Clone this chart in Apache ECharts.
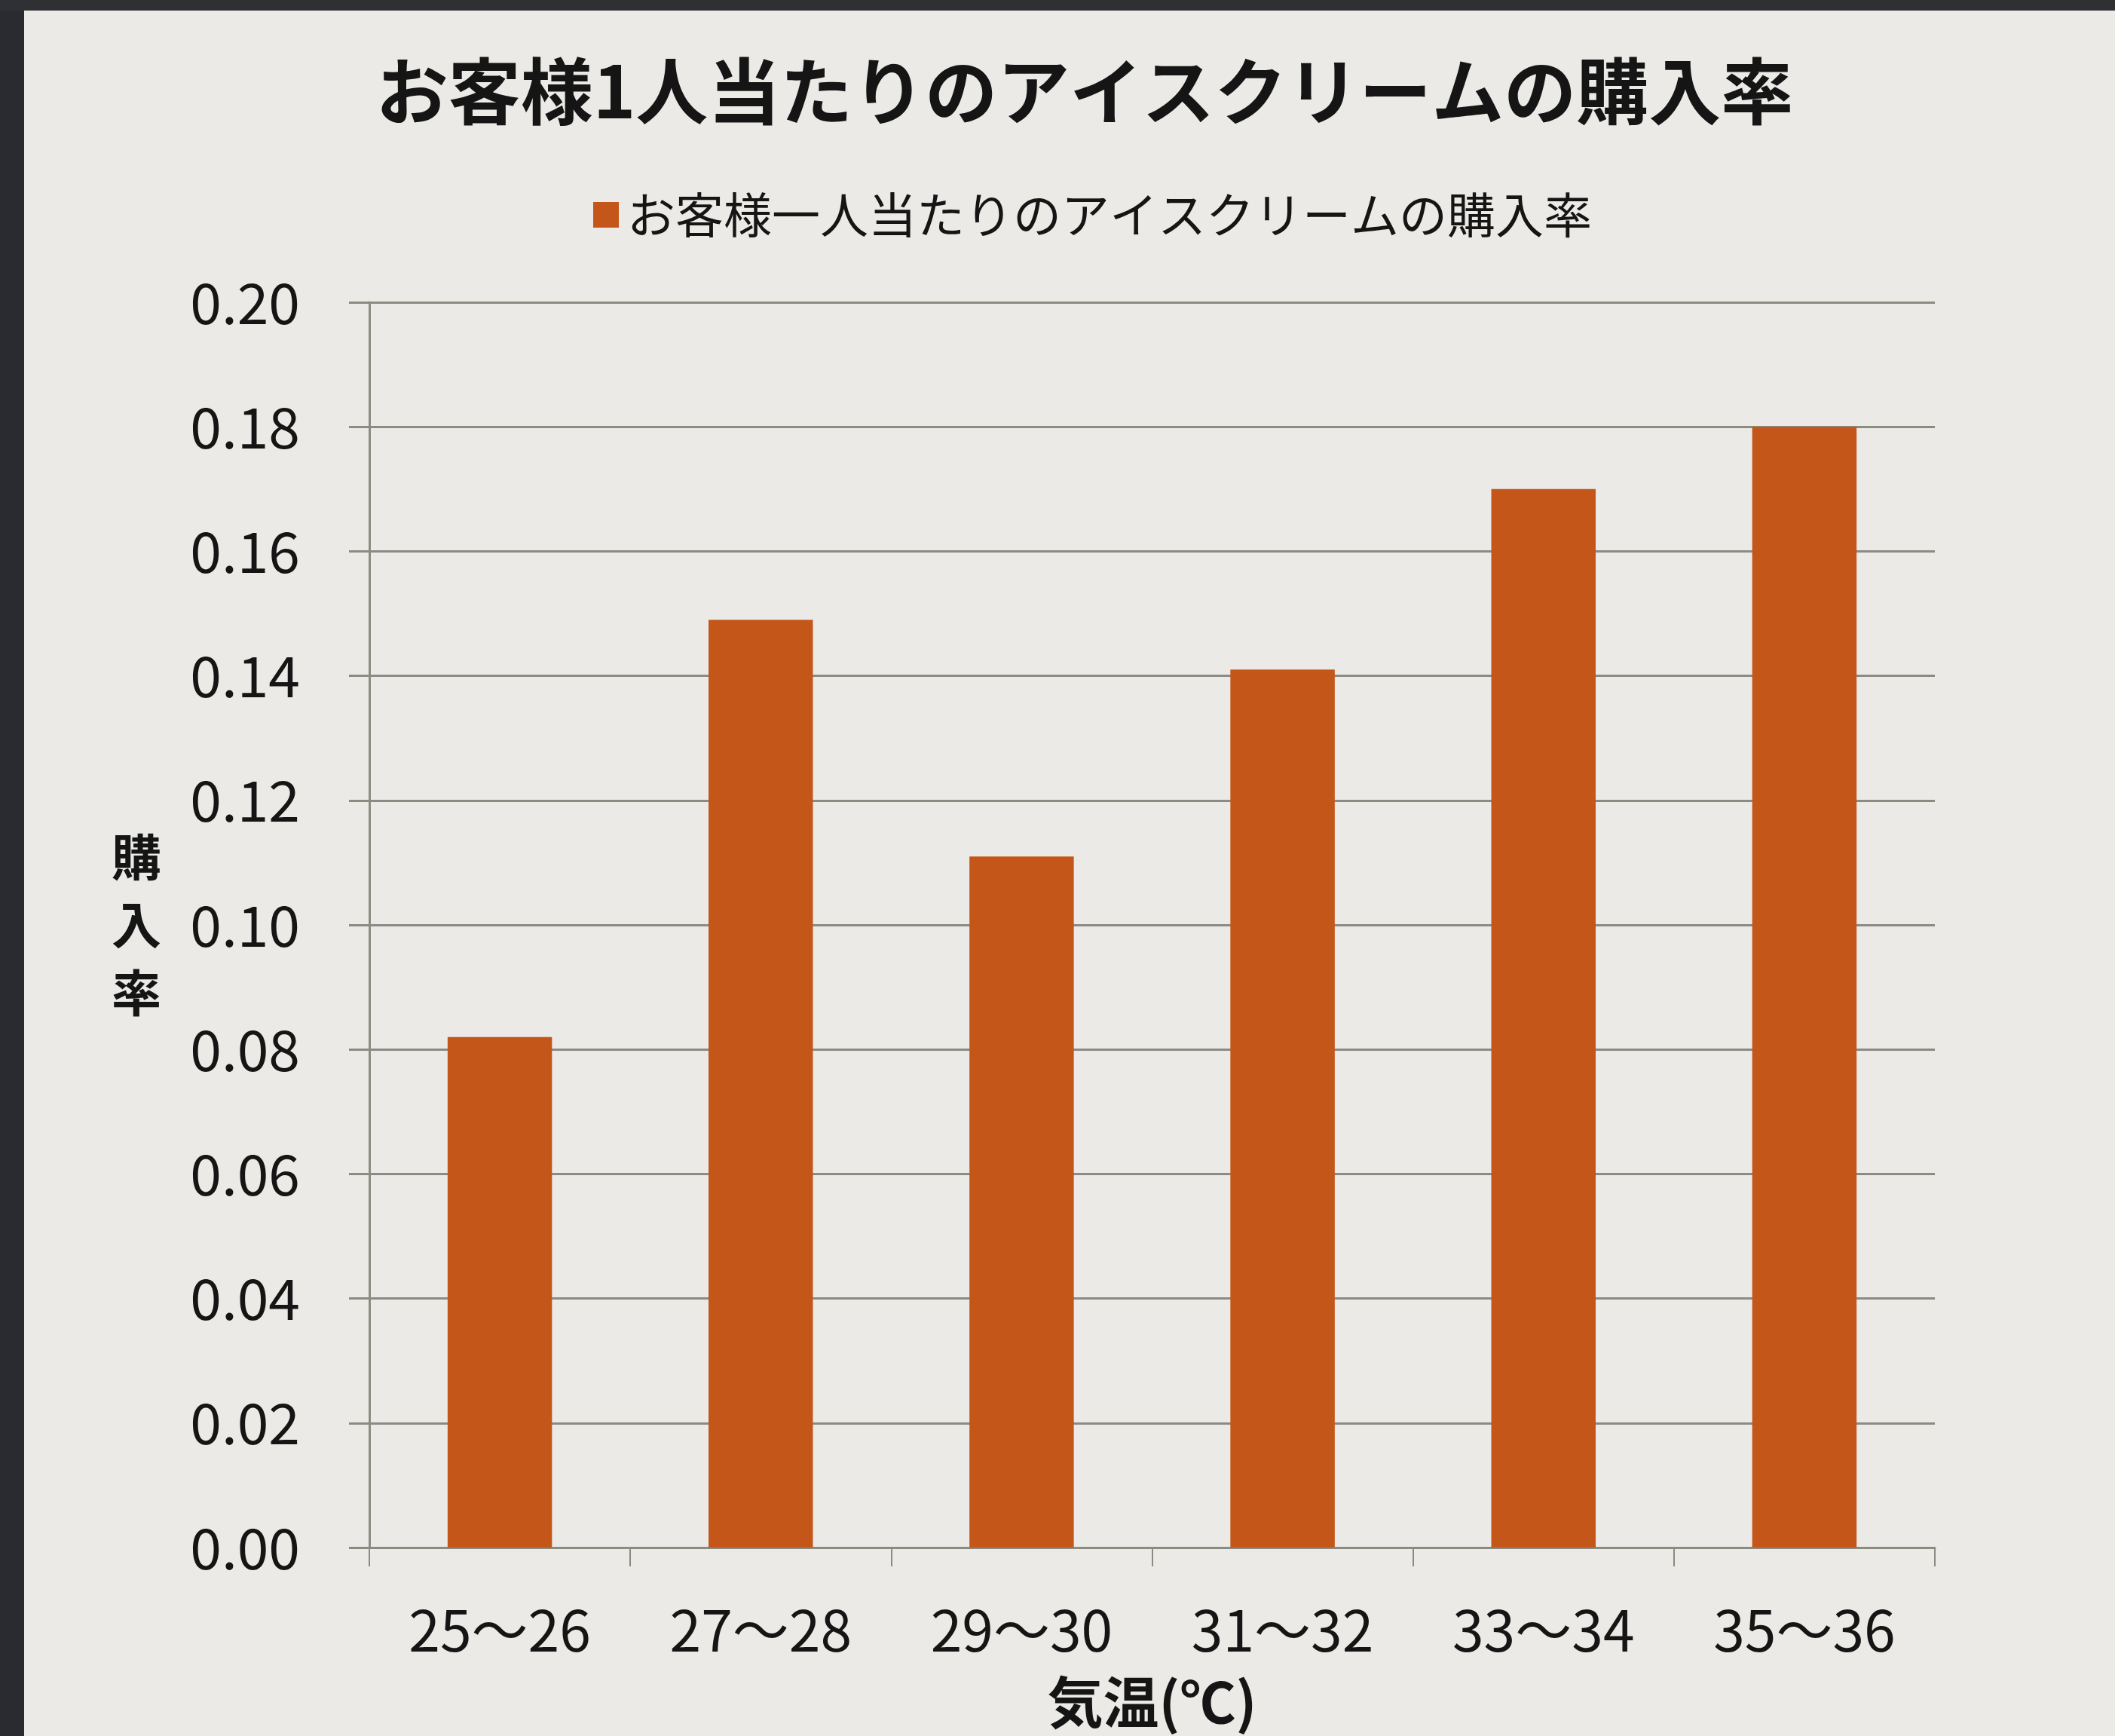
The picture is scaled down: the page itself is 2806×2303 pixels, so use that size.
<!DOCTYPE html>
<html>
<head>
<meta charset="utf-8">
<script src="https://cdn.jsdelivr.net/npm/echarts@6/dist/echarts.min.js"></script>
<style>
  html, body { margin: 0; padding: 0; background: #ebeae6; }
  #chart { width: 2806px; height: 2303px; }
</style>
</head>
<body>
<div id="chart"></div>
<script>
const titleText = 'お客様1人当たりのアイスクリームの購入率';
const seriesName = 'お客様一人当たりのアイスクリームの購入率';
const categories = ['25～26', '27～28', '29～30', '31～32', '33～34', '35～36'];
const rates = [0.082, 0.149, 0.111, 0.141, 0.170, 0.180];
const xAxisName = '気温(℃)';
const yAxisName = '購\n入\n率';

const jp = '"Noto Sans CJK JP", "Noto Sans", sans-serif';
const gridColor = '#8c8b82';
const textColor = '#151515';

const chart = echarts.init(document.getElementById('chart'));
chart.setOption({
  backgroundColor: '#ebeae6',
  animation: false,
  graphic: [
    { type: 'rect', left: 0, top: 0, shape: { width: 32, height: 2303 }, style: { fill: '#2a2b31' }, z: 100 },
    { type: 'rect', left: 0, top: 0, shape: { width: 2806, height: 14 }, style: { fill: '#2f3033' }, z: 100 }
  ],
  title: {
    text: titleText,
    left: 1434,
    top: 68,
    textAlign: 'center',
    textStyle: { fontFamily: jp, fontSize: 96, fontWeight: 'bold', color: textColor }
  },
  legend: {
    data: [seriesName],
    left: 782,
    top: 248,
    icon: 'rect',
    itemWidth: 34,
    itemHeight: 34,
    itemGap: 10,
    textStyle: { fontFamily: jp, fontSize: 64, color: textColor, padding: [0, 0, 0, 6] }
  },
  grid: { left: 490, right: 239, top: 401, bottom: 250, containLabel: false },
  xAxis: {
    type: 'category',
    data: categories,
    name: xAxisName,
    nameLocation: 'middle',
    nameGap: 168,
    nameTextStyle: { fontFamily: jp, fontSize: 74, fontWeight: 'bold', color: textColor },
    axisLine: { show: true, lineStyle: { color: gridColor, width: 3 } },
    axisTick: { show: true, alignWithLabel: false, length: 25, lineStyle: { color: gridColor, width: 2 } },
    axisLabel: { fontFamily: jp, fontSize: 75, color: textColor, margin: 72 },
    splitLine: { show: false }
  },
  yAxis: {
    type: 'value',
    min: 0,
    max: 0.2,
    interval: 0.02,
    name: yAxisName,
    nameLocation: 'middle',
    nameRotate: 0,
    nameGap: 276,
    nameTextStyle: { fontFamily: jp, fontSize: 66, fontWeight: 'bold', color: textColor, lineHeight: 90 },
    axisLine: { show: true, lineStyle: { color: gridColor, width: 3 } },
    axisTick: { show: true, length: 27, lineStyle: { color: gridColor, width: 3 } },
    axisLabel: { fontFamily: jp, fontSize: 75, color: textColor, margin: 92, formatter: v => v.toFixed(2) },
    splitLine: { show: true, lineStyle: { color: gridColor, width: 3 } }
  },
  series: [{
    name: seriesName,
    type: 'bar',
    data: rates,
    barWidth: '40%',
    itemStyle: { color: '#c4561a' }
  }]
});
</script>
</body>
</html>
